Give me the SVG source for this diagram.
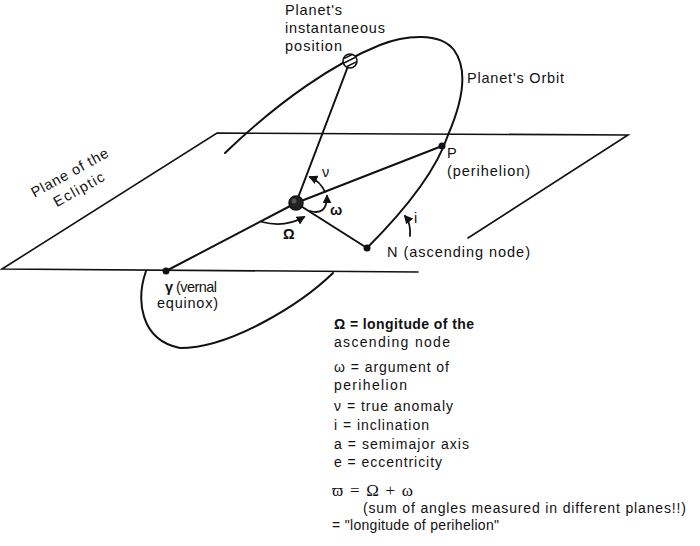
<svg xmlns="http://www.w3.org/2000/svg" width="700" height="546" viewBox="0 0 700 546">
<defs>
<style>
.ln{fill:none;stroke:#111;stroke-width:2;stroke-linecap:round}
.pl{fill:none;stroke:#111;stroke-width:1.6;stroke-linecap:round}
.ar{fill:none;stroke:#111;stroke-width:1.8;stroke-linecap:round}
.t{font-family:"Liberation Sans",Arial,sans-serif;font-size:14.5px;fill:#111}
.s{font-size:14px}
.g{font-family:"Liberation Serif","DejaVu Serif",serif;font-size:17px;fill:#111}
.b{font-weight:bold}
.dot{fill:#111}
</style>
<marker id="ah" viewBox="0 0 10 10" refX="8" refY="5" markerWidth="5" markerHeight="5" orient="auto" markerUnits="strokeWidth">
<path d="M0,0 L10,5 L0,10 z" fill="#111"/>
</marker>
<clipPath id="pc"><circle cx="350" cy="61" r="6.5"/></clipPath>
</defs>
<rect width="700" height="546" fill="#fff"/>

<g id="plane">
<path class="pl" d="M418,272 L2,269 L217,133 L628,135 L468,238"/>
<g transform="translate(72,177) rotate(-29)">
<text class="t" x="0" y="0" text-anchor="middle" textLength="86" lengthAdjust="spacing">Plane of the</text>
<text class="t" x="0" y="19" text-anchor="middle" textLength="56" lengthAdjust="spacing">Ecliptic</text>
</g>
</g>

<g id="orbit">
<path class="ln" d="M367,248 C400,215 435,175 448,135 C461,105 470,72 454,50 C440,32 405,35 380,45 C335,63 280,100 225,153"/>
<path class="ln" d="M146,271 C136,300 140,340 180,348 C230,348 300,305 333,273"/>
<text class="t" x="467" y="83" textLength="97" lengthAdjust="spacing">Planet's Orbit</text>
</g>

<g id="connectors">
<line class="ln" x1="296" y1="203" x2="350" y2="61"/>
<line class="ln" x1="166" y1="271" x2="296" y2="203"/>
<line class="ln" x1="296" y1="203" x2="442" y2="146"/>
<line class="ln" x1="296" y1="203" x2="367" y2="248"/>
<path class="ar" d="M325,192 A29,29 0 0 0 310,177" marker-end="url(#ah)"/>
<path class="ar" d="M310,211 Q327,216 327,196" marker-end="url(#ah)"/>
<path class="ar" d="M262,222 Q285,228 304,217" marker-end="url(#ah)"/>
<path class="ar" d="M410,236 Q411,223 405,216" marker-end="url(#ah)"/>
</g>

<g id="sun">
<circle cx="296" cy="203" r="7" fill="#222" stroke="#111" stroke-width="1.5"/>
<circle cx="294" cy="201" r="2.5" fill="#555"/>
</g>

<g id="planet">
<circle cx="350" cy="61" r="7" fill="#fff" stroke="#111" stroke-width="1.6"/>
<g clip-path="url(#pc)" stroke="#111" stroke-width="1.5">
<line x1="343" y1="59" x2="353" y2="54"/>
<line x1="344" y1="63" x2="356" y2="57"/>
<line x1="346" y1="67" x2="358" y2="61"/>
</g>
<text class="t" x="285" y="15" textLength="57" lengthAdjust="spacing">Planet's</text>
<text class="t" x="285" y="33" textLength="100" lengthAdjust="spacing">instantaneous</text>
<text class="t" x="285" y="51" textLength="57" lengthAdjust="spacing">position</text>
</g>

<g id="perihelion">
<circle class="dot" cx="442" cy="146" r="3.5"/>
<text class="t" x="447" y="158">P</text>
<text class="t" x="447" y="176" textLength="83" lengthAdjust="spacing">(perihelion)</text>
</g>

<g id="node">
<circle class="dot" cx="367" cy="248" r="3.5"/>
<text class="t" x="387" y="257" textLength="143" lengthAdjust="spacing">N (ascending node)</text>
</g>

<g id="equinox">
<circle class="dot" cx="166" cy="271" r="3.5"/>
<text class="t" x="165" y="292" textLength="52" lengthAdjust="spacing"><tspan class="b">γ</tspan> (vernal</text>
<text class="t" x="157" y="308" textLength="61" lengthAdjust="spacing">equinox)</text>
</g>

<g id="angles">
<text class="t" x="322" y="177">ν</text>
<text class="t b" x="330" y="215">ω</text>
<text class="t b" x="283" y="239">Ω</text>
<text class="t" x="414" y="223">i</text>
</g>

<g id="legend">
<text class="t s b" x="334" y="329" textLength="140" lengthAdjust="spacing">Ω = longitude of the</text>
<text class="t s" x="334" y="347" textLength="116" lengthAdjust="spacing">ascending node</text>
<text class="t s" x="334" y="372" textLength="115" lengthAdjust="spacing">ω = argument of</text>
<text class="t s" x="334" y="390" textLength="73" lengthAdjust="spacing">perihelion</text>
<text class="t s" x="334" y="411" textLength="119" lengthAdjust="spacing">ν = true anomaly</text>
<text class="t s" x="334" y="430" textLength="95" lengthAdjust="spacing">i = inclination</text>
<text class="t s" x="334" y="449" textLength="135" lengthAdjust="spacing">a = semimajor axis</text>
<text class="t s" x="334" y="467" textLength="108" lengthAdjust="spacing">e = eccentricity</text>
<text class="g" x="332" y="496" textLength="81" lengthAdjust="spacing">ϖ = Ω + ω</text>
<text class="t s" x="363" y="513" textLength="323" lengthAdjust="spacing">(sum of angles measured in different planes!!)</text>
<text class="t s" x="332" y="530" textLength="167" lengthAdjust="spacing">= "longitude of perihelion"</text>
</g>
</svg>
